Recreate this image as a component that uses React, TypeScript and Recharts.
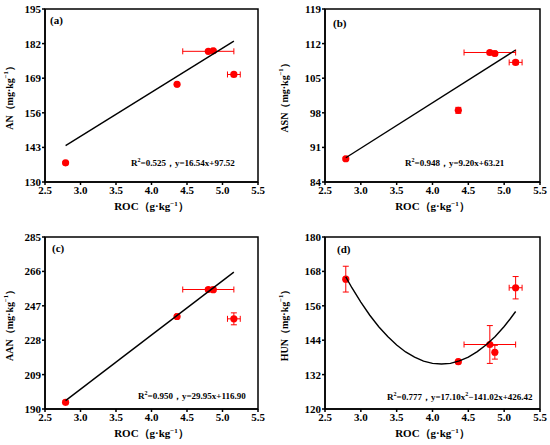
import React from 'react';
import {
  ScatterChart,
  Scatter,
  XAxis,
  YAxis,
  ErrorBar,
  ReferenceArea,
  Label,
} from 'recharts';

// ROC values shared by all four panels
const ROC = [2.79, 4.36, 4.8, 4.87, 5.16];
const ROC_ERR = [0.02, 0.02, 0.36, 0.02, 0.09];
const X_TICKS = [2.5, 3.0, 3.5, 4.0, 4.5, 5.0, 5.5];

const AN = [137.2, 166.7, 179.1, 179.3, 170.4];
const AN_ERR = [0.4, 0.4, 0.4, 0.4, 0.5];
const AN_TICKS = [130, 143, 156, 169, 182, 195];
const AN_FIT = [
  { x: 2.79, y: 143.7 },
  { x: 5.16, y: 182.9 },
];

const ASN = [88.7, 98.5, 110.2, 110.0, 108.2];
const ASN_ERR = [0.3, 0.6, 0.3, 0.3, 0.4];
const ASN_TICKS = [84, 91, 98, 105, 112, 119];
const ASN_FIT = [
  { x: 2.79, y: 88.9 },
  { x: 5.16, y: 110.7 },
];

const AAN = [193.7, 241.1, 256.0, 255.9, 239.8];
const AAN_ERR = [0.8, 0.8, 0.8, 0.8, 3.3];
const AAN_TICKS = [190, 209, 228, 247, 266, 285];
const AAN_FIT = [
  { x: 2.79, y: 194.6 },
  { x: 5.16, y: 265.6 },
];

const HUN = [165.3, 136.5, 142.5, 139.8, 162.3];
const HUN_ERR = [4.5, 0.4, 6.6, 2.4, 3.9];
const HUN_TICKS = [120, 132, 144, 156, 168, 180];
// points read along the fitted parabola
const HUN_FIT = [
  { x: 2.79, y: 166.1 },
  { x: 2.875, y: 162.3 },
  { x: 3.0, y: 157.3 },
  { x: 3.125, y: 152.7 },
  { x: 3.25, y: 148.7 },
  { x: 3.375, y: 145.3 },
  { x: 3.5, y: 142.3 },
  { x: 3.625, y: 139.9 },
  { x: 3.75, y: 138.1 },
  { x: 3.875, y: 136.7 },
  { x: 4.0, y: 135.9 },
  { x: 4.125, y: 135.7 },
  { x: 4.25, y: 135.9 },
  { x: 4.375, y: 136.8 },
  { x: 4.5, y: 138.1 },
  { x: 4.625, y: 140.0 },
  { x: 4.75, y: 142.4 },
  { x: 4.875, y: 145.3 },
  { x: 5.0, y: 148.8 },
  { x: 5.08, y: 151.3 },
  { x: 5.16, y: 154.0 },
];

const FONT = '"Liberation Serif", "Times New Roman", serif';
const RED = '#ff0000';

function toPoints(ys: number[], yErr: number[]) {
  return ROC.map((x, i) => ({ x, y: ys[i], ex: ROC_ERR[i], ey: yErr[i] }));
}

type PanelProps = {
  left: number;
  top: number;
  height: number;
  margin: { top: number; right: number; bottom: number; left: number };
  yAxisWidth: number;
  letter: string;
  letterPos: [number, number];
  yName: string;
  yTicks: number[];
  ys: number[];
  yErr: number[];
  fit: { x: number; y: number }[];
  eq: React.ReactNode;
  eqPos: [number, number];
};

function Panel(p: PanelProps) {
  const data = toPoints(p.ys, p.yErr);
  const yMin = p.yTicks[0];
  const yMax = p.yTicks[p.yTicks.length - 1];
  const tickStyle = { fontSize: 11, fontWeight: 'bold', fill: '#000', fontFamily: FONT };
  return (
    <div style={{ position: 'absolute', left: p.left, top: p.top }}>
      <ScatterChart width={275} height={p.height} margin={p.margin}>
        <XAxis
          type="number"
          dataKey="x"
          domain={[2.5, 5.5]}
          ticks={X_TICKS}
          tickFormatter={(v: number) => v.toFixed(1)}
          tick={tickStyle}
          tickSize={3}
          tickMargin={1}
          stroke="#000"
          strokeWidth={1.5}
          height={40}
          allowDataOverflow
        >
          <Label
            content={({ viewBox }: any) => (
              <text
                x={viewBox.x + viewBox.width / 2}
                y={viewBox.y + 28}
                textAnchor="middle"
                fontFamily={FONT}
                fontWeight="bold"
                fontSize={11}
                fill="#000"
              >
                ROC（g·kg<tspan dy={-4} fontSize={7}>−1</tspan>
                <tspan dy={4}>）</tspan>
              </text>
            )}
          />
        </XAxis>
        <YAxis
          type="number"
          dataKey="y"
          domain={[yMin, yMax]}
          ticks={p.yTicks}
          tick={tickStyle}
          tickSize={3}
          tickMargin={1}
          stroke="#000"
          strokeWidth={1.5}
          width={p.yAxisWidth}
          allowDataOverflow
        >
          <Label
            content={({ viewBox }: any) => {
              const cx = 9;
              const cy = viewBox.y + viewBox.height / 2;
              return (
                <text
                  x={cx}
                  y={cy}
                  transform={`rotate(-90 ${cx} ${cy})`}
                  textAnchor="middle"
                  dominantBaseline="central"
                  fontFamily={FONT}
                  fontWeight="bold"
                  fontSize={10}
                  fill="#000"
                >
                  {p.yName}（mg·kg<tspan dy={-4} fontSize={6.5}>−1</tspan>
                  <tspan dy={4}>）</tspan>
                </text>
              );
            }}
          />
        </YAxis>
        <ReferenceArea
          x1={2.5}
          x2={5.5}
          y1={yMin}
          y2={yMax}
          fill="none"
          stroke="#000"
          strokeWidth={1.5}
          ifOverflow="visible"
        />
        <Scatter
          data={data}
          fill={RED}
          isAnimationActive={false}
          shape={(s: any) => <circle cx={s.cx} cy={s.cy} r={3.6} fill={RED} />}
        >
          <ErrorBar dataKey="ex" direction="x" stroke={RED} strokeWidth={1} width={3} />
          <ErrorBar dataKey="ey" direction="y" stroke={RED} strokeWidth={1} width={3} />
        </Scatter>
        <Scatter
          data={p.fit}
          isAnimationActive={false}
          line={{ stroke: '#000', strokeWidth: 1.4 }}
          lineType="joint"
          shape={() => <g />}
        />
        <text
          x={p.letterPos[0]}
          y={p.letterPos[1]}
          fontFamily={FONT}
          fontWeight="bold"
          fontSize={11}
          fill="#000"
        >
          {p.letter}
        </text>
        <text
          x={p.eqPos[0]}
          y={p.eqPos[1]}
          fontFamily={FONT}
          fontWeight="bold"
          fontSize={9}
          fill="#000"
        >
          {p.eq}
        </text>
      </ScatterChart>
    </div>
  );
}

const sup = (s: string) => (
  <tspan dy={-4} fontSize={6}>
    {s}
  </tspan>
);

export default function App() {
  return (
    <div
      style={{
        position: 'absolute',
        left: 0,
        top: 0,
        width: 550,
        height: 445,
        background: '#fff',
        overflow: 'hidden',
      }}
    >
      <Panel
        left={0}
        top={0}
        height={222}
        margin={{ top: 9, right: 17, bottom: 0, left: 0 }}
        yAxisWidth={45}
        letter="(a)"
        letterPos={[50, 24]}
        yName="AN"
        yTicks={AN_TICKS}
        ys={AN}
        yErr={AN_ERR}
        fit={AN_FIT}
        eq={
          <>
            R{sup('2')}
            <tspan dy={4}>=0.525，y=16.54x+97.52</tspan>
          </>
        }
        eqPos={[131, 166]}
      />
      <Panel
        left={275}
        top={0}
        height={222}
        margin={{ top: 9, right: 10, bottom: 0, left: 0 }}
        yAxisWidth={50}
        letter="(b)"
        letterPos={[58, 27]}
        yName="ASN"
        yTicks={ASN_TICKS}
        ys={ASN}
        yErr={ASN_ERR}
        fit={ASN_FIT}
        eq={
          <>
            R{sup('2')}
            <tspan dy={4}>=0.948，y=9.20x+63.21</tspan>
          </>
        }
        eqPos={[130, 166]}
      />
      <Panel
        left={0}
        top={222}
        height={223}
        margin={{ top: 15, right: 17, bottom: -4, left: 0 }}
        yAxisWidth={45}
        letter="(c)"
        letterPos={[52, 30]}
        yName="AAN"
        yTicks={AAN_TICKS}
        ys={AAN}
        yErr={AAN_ERR}
        fit={AAN_FIT}
        eq={
          <>
            R{sup('2')}
            <tspan dy={4}>=0.950，y=29.95x+116.90</tspan>
          </>
        }
        eqPos={[138, 177]}
      />
      <Panel
        left={275}
        top={222}
        height={223}
        margin={{ top: 15, right: 10, bottom: -4, left: 0 }}
        yAxisWidth={50}
        letter="(d)"
        letterPos={[62, 31]}
        yName="HUN"
        yTicks={HUN_TICKS}
        ys={HUN}
        yErr={HUN_ERR}
        fit={HUN_FIT}
        eq={
          <>
            R{sup('2')}
            <tspan dy={4}>=0.777，y=17.10x</tspan>
            {sup('2')}
            <tspan dy={4}>−141.02x+426.42</tspan>
          </>
        }
        eqPos={[112, 178]}
      />
    </div>
  );
}
